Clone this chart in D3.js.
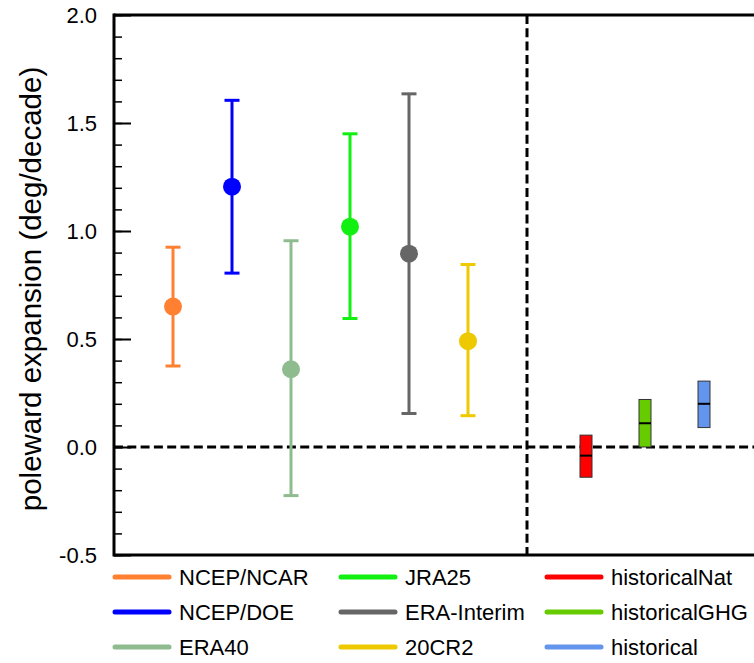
<!DOCTYPE html>
<html>
<head>
<meta charset="utf-8">
<script src="https://cdn.jsdelivr.net/npm/d3@7"></script>
<style>
  body { margin: 0; background: #fff; }
  svg { display: block; font-family: "Liberation Sans", Arial, Helvetica, sans-serif; }
</style>
</head>
<body>
<svg id="chart" width="754" height="663"></svg>
<script>
// Reanalysis trends: mean and uncertainty range (deg/decade)
const reanalyses = ["NCEP/NCAR", "NCEP/DOE", "ERA40", "JRA25", "ERA-Interim", "20CR2"];
const reanalysisMean = [0.65, 1.205, 0.36, 1.02, 0.895, 0.49];
const reanalysisLow = [0.375, 0.805, -0.225, 0.595, 0.155, 0.145];
const reanalysisHigh = [0.925, 1.605, 0.955, 1.45, 1.635, 0.845];
const reanalysisColors = ["#ff8030", "#0000ff", "#8fbc8f", "#11f011", "#666666", "#eec900"];

// CMIP5 ensembles: box bottom, median, box top (deg/decade)
const experiments = ["historicalNat", "historicalGHG", "historical"];
const experimentLow = [-0.14, 0.0, 0.09];
const experimentMid = [-0.04, 0.11, 0.20];
const experimentHigh = [0.055, 0.22, 0.305];
const experimentColors = ["#ff0000", "#66cc00", "#6495ed"];

const yMajorTicks = [-0.5, 0.0, 0.5, 1.0, 1.5, 2.0];

const svg = d3.select("#chart");
const plotLeft = 114, plotTop = 15, plotBottom = 555;

// one slot per item; slot 6 holds the divider between reanalyses and models
const x = d3.scaleLinear().domain([-1, 10]).range([plotLeft, plotLeft + 59 * 11]);
const y = d3.scaleLinear().domain([-0.5, 2.0]).range([plotBottom, plotTop]);
const reSlot = reanalyses.map((d, i) => i);
const exSlot = experiments.map((d, i) => i + 7);
const dividerSlot = 6;

// tick labels with a plain hyphen for negatives
const tickLabel = v => v.toFixed(1);

// minor ticks every 0.1
svg.append("g")
  .attr("transform", `translate(${plotLeft},0)`)
  .call(d3.axisLeft(y).tickValues(d3.range(-5, 21).map(v => v / 10)).tickSize(-8).tickFormat(""))
  .call(g => g.select(".domain").remove())
  .call(g => g.selectAll("line").attr("stroke", "#000").attr("stroke-width", 1.5));

// major ticks with labels
svg.append("g")
  .attr("transform", `translate(${plotLeft},0)`)
  .call(d3.axisLeft(y).tickValues(yMajorTicks).tickSize(-17).tickPadding(17).tickFormat(tickLabel))
  .call(g => g.select(".domain").remove())
  .call(g => g.selectAll("line").attr("stroke", "#000").attr("stroke-width", 2))
  .call(g => g.selectAll("text")
    .attr("font-size", 22)
    .attr("fill", "#000")
    .style("font-family", "'Liberation Sans', Arial, Helvetica, sans-serif"));

// frame
svg.append("line").attr("x1", plotLeft).attr("x2", plotLeft).attr("y1", plotTop - 1.5).attr("y2", plotBottom + 1.5)
  .attr("stroke", "#000").attr("stroke-width", 3);
svg.append("line").attr("x1", plotLeft).attr("x2", 754).attr("y1", plotTop).attr("y2", plotTop)
  .attr("stroke", "#000").attr("stroke-width", 3);
svg.append("line").attr("x1", plotLeft).attr("x2", 754).attr("y1", plotBottom).attr("y2", plotBottom)
  .attr("stroke", "#000").attr("stroke-width", 3);

// zero line and divider
svg.append("line").attr("x1", plotLeft).attr("x2", 754).attr("y1", y(0)).attr("y2", y(0))
  .attr("stroke", "#000").attr("stroke-width", 3).attr("stroke-dasharray", "9,4.3");
svg.append("line").attr("x1", x(dividerSlot)).attr("x2", x(dividerSlot)).attr("y1", plotTop).attr("y2", plotBottom)
  .attr("stroke", "#000").attr("stroke-width", 3).attr("stroke-dasharray", "9,4.3");

// y-axis title
svg.append("text")
  .attr("transform", `translate(30,${(plotTop + plotBottom) / 2 + 4}) rotate(-90)`)
  .attr("text-anchor", "middle")
  .attr("dominant-baseline", "central")
  .attr("font-size", 29.5)
  .text("poleward expansion (deg/decade)");

// reanalysis error bars with mean markers
const re = svg.append("g").selectAll("g").data(reanalyses).join("g");
re.append("line")
  .attr("x1", (d, i) => x(reSlot[i])).attr("x2", (d, i) => x(reSlot[i]))
  .attr("y1", (d, i) => y(reanalysisLow[i])).attr("y2", (d, i) => y(reanalysisHigh[i]))
  .attr("stroke", (d, i) => reanalysisColors[i]).attr("stroke-width", 3);
re.append("line")
  .attr("x1", (d, i) => x(reSlot[i]) - 7.5).attr("x2", (d, i) => x(reSlot[i]) + 7.5)
  .attr("y1", (d, i) => y(reanalysisHigh[i])).attr("y2", (d, i) => y(reanalysisHigh[i]))
  .attr("stroke", (d, i) => reanalysisColors[i]).attr("stroke-width", 3);
re.append("line")
  .attr("x1", (d, i) => x(reSlot[i]) - 7.5).attr("x2", (d, i) => x(reSlot[i]) + 7.5)
  .attr("y1", (d, i) => y(reanalysisLow[i])).attr("y2", (d, i) => y(reanalysisLow[i]))
  .attr("stroke", (d, i) => reanalysisColors[i]).attr("stroke-width", 3);
re.append("circle")
  .attr("cx", (d, i) => x(reSlot[i])).attr("cy", (d, i) => y(reanalysisMean[i]))
  .attr("r", 9)
  .attr("fill", (d, i) => reanalysisColors[i]);

// model ensemble boxes with median
const ex = svg.append("g").selectAll("g").data(experiments).join("g");
ex.append("rect")
  .attr("x", (d, i) => x(exSlot[i]) - 6).attr("width", 12)
  .attr("y", (d, i) => y(experimentHigh[i]))
  .attr("height", (d, i) => y(experimentLow[i]) - y(experimentHigh[i]))
  .attr("fill", (d, i) => experimentColors[i])
  .attr("stroke", "#333").attr("stroke-width", 1);
ex.append("line")
  .attr("x1", (d, i) => x(exSlot[i]) - 6).attr("x2", (d, i) => x(exSlot[i]) + 6)
  .attr("y1", (d, i) => y(experimentMid[i])).attr("y2", (d, i) => y(experimentMid[i]))
  .attr("stroke", "#000").attr("stroke-width", 2);

// legend: three columns of three entries
const legendItems = reanalyses.map((d, i) => ({ name: d, color: reanalysisColors[i] }))
  .concat(experiments.map((d, i) => ({ name: d, color: experimentColors[i] })));
const colX = [113, 339, 545];
const rowY = [577, 612, 647];
const lg = svg.append("g").selectAll("g").data(legendItems).join("g")
  .attr("transform", (d, i) => `translate(${colX[Math.floor(i / 3)]},${rowY[i % 3]})`);
lg.append("line")
  .attr("x1", 2).attr("x2", 56).attr("y1", 0).attr("y2", 0)
  .attr("stroke", d => d.color).attr("stroke-width", 5).attr("stroke-linecap", "round");
lg.append("text")
  .attr("x", 66).attr("y", 0)
  .attr("dominant-baseline", "central")
  .attr("font-size", 22)
  .text(d => d.name);
</script>
</body>
</html>
